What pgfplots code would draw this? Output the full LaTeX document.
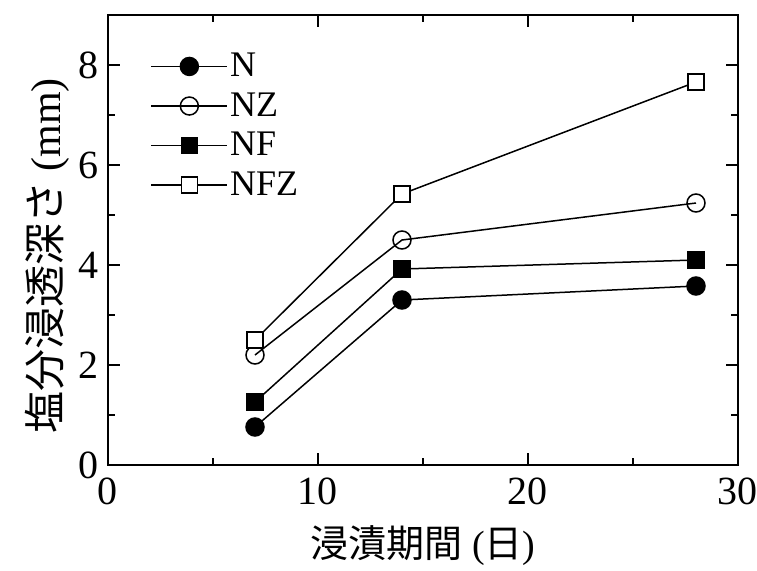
\documentclass[border=0pt]{standalone}
\usepackage{pgfplots}
\pgfplotsset{compat=1.18}
\usepackage{fontspec}
\setmainfont{Liberation Serif}
\newfontfamily\cjk{Noto Sans CJK JP}
\begin{document}
\begin{tikzpicture}
\useasboundingbox (-54pt,-52.5pt) rectangle (324.5pt,232.5pt);
\begin{axis}[
  at={(0,0)}, anchor=south west,
  scale only axis, width=315pt, height=225pt,
  xmin=0, xmax=30, ymin=0, ymax=9,
  xtick={0,10,20,30}, ytick={0,2,4,6,8},
  minor xtick={5,15,25}, minor ytick={1,3,5,7},
  tick align=inside,
  major tick length=6pt, minor tick length=3.5pt,
  tick style={black, line width=0.8pt},
  axis line style={line width=1pt},
  /pgf/number format/assume math mode=true,
  ticklabel style={font=\fontsize{20}{24}\selectfont},
  xticklabel style={yshift=-3pt},
  yticklabel style={xshift=-1pt},
  xlabel={{\cjk 浸漬期間} ({\cjk 日})},
  xlabel style={font=\fontsize{19}{22}\selectfont, yshift=-3.5pt},
  ylabel={{\cjk 塩分浸透深さ} (mm)},
  ylabel style={font=\fontsize{21}{24}\selectfont, yshift=-2pt, xshift=-8pt},
  legend style={at={(0.067,0.925)}, anchor=north west, draw=none, fill=none,
    font=\fontsize{18}{20}\selectfont, row sep=2.5pt, inner sep=0pt,
    nodes={inner xsep=1pt}},
  legend cell align=left,
  legend image code/.code={
    \draw[#1, mark=none] (0pt,0pt) -- (38pt,0pt);
    \draw[#1, only marks] plot coordinates {(19pt,0pt)};
  },
  every axis plot/.append style={black, line width=0.75pt},
]
\addplot[mark=*, mark options={fill=black}, mark size=4.5pt] coordinates {(7,0.76) (14,3.3) (28,3.58)};
\addlegendentry{N}
\addplot[mark=o, mark options={fill=white}, mark size=4.5pt] coordinates {(7,2.2) (14,4.5) (28,5.24)};
\addlegendentry{NZ}
\addplot[mark=square*, mark options={fill=black}, mark size=4pt] coordinates {(7,1.26) (14,3.92) (28,4.1)};
\addlegendentry{NF}
\addplot[mark=square*, mark options={fill=white}, mark size=4pt] coordinates {(7,2.5) (14,5.42) (28,7.66)};
\addlegendentry{NFZ}
\end{axis}
\end{tikzpicture}
\end{document}
